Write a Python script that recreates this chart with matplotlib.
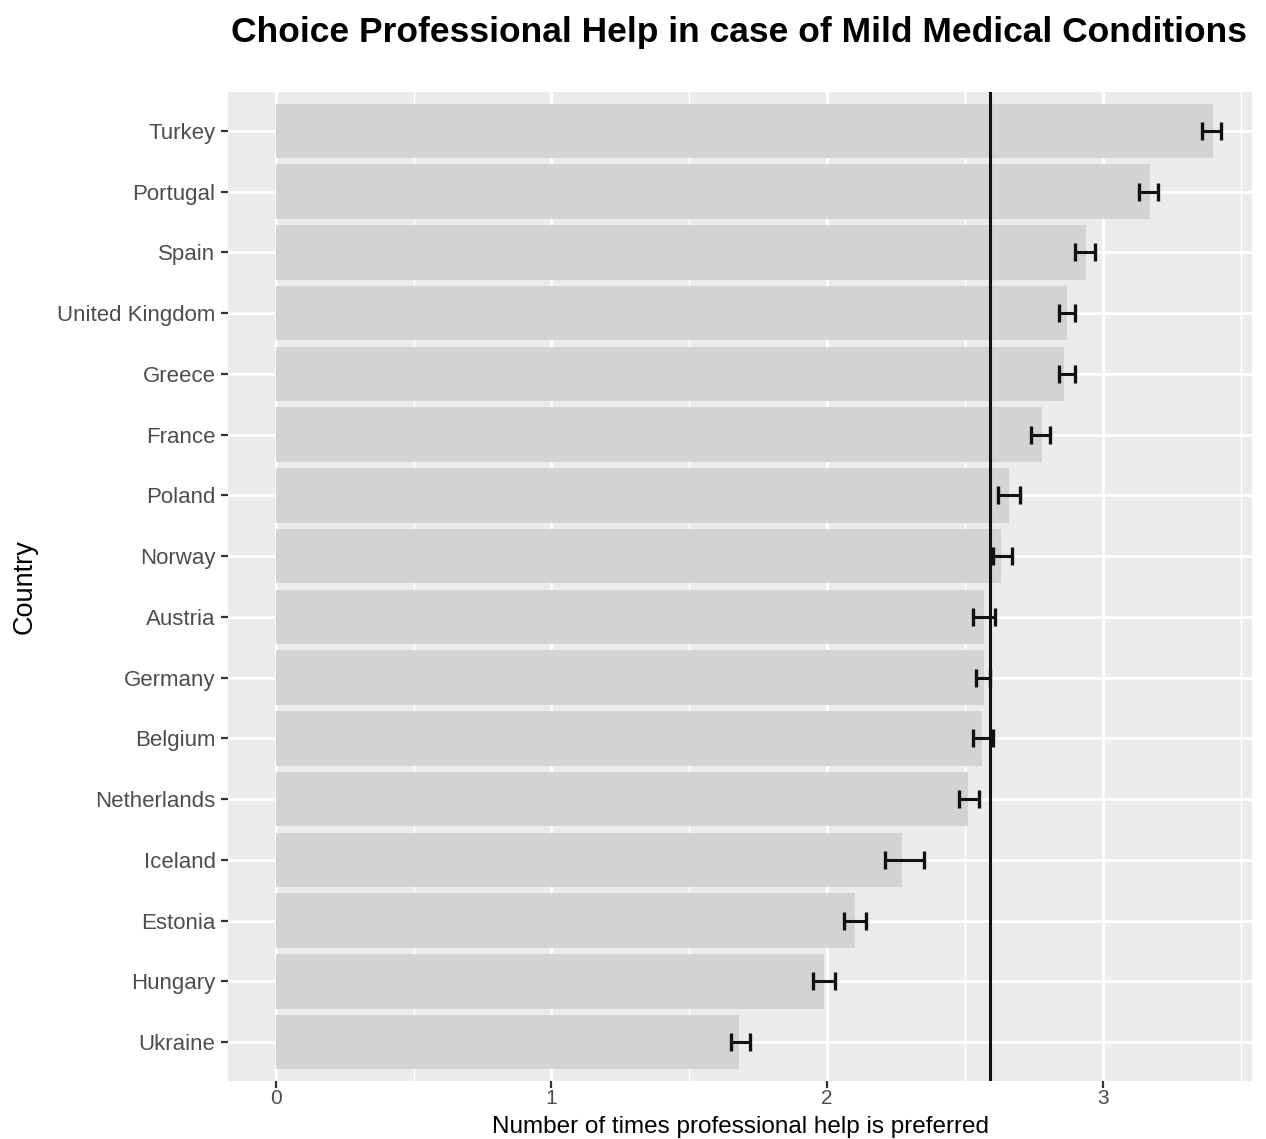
import matplotlib.pyplot as plt
from matplotlib.ticker import MultipleLocator

plt.rcParams['font.family'] = ['Liberation Sans', 'DejaVu Sans']

# --- data, top to bottom as drawn ---
countries = ['Turkey', 'Portugal', 'Spain', 'United Kingdom', 'Greece', 'France',
             'Poland', 'Norway', 'Austria', 'Germany', 'Belgium', 'Netherlands',
             'Iceland', 'Estonia', 'Hungary', 'Ukraine']
means = [3.40, 3.17, 2.94, 2.87, 2.86, 2.78, 2.66, 2.63, 2.57, 2.57, 2.56, 2.51,
         2.27, 2.10, 1.99, 1.68]
lower = [3.36, 3.13, 2.90, 2.84, 2.84, 2.74, 2.62, 2.60, 2.53, 2.54, 2.53, 2.48,
         2.21, 2.06, 1.95, 1.65]
upper = [3.43, 3.20, 2.97, 2.90, 2.90, 2.81, 2.70, 2.67, 2.61, 2.59, 2.60, 2.55,
         2.35, 2.14, 2.03, 1.72]
overall_mean = 2.59

fig = plt.figure(figsize=(12.66, 11.39), dpi=100)
ax = fig.add_axes([228 / 1266, 1 - 1081 / 1139, 1024 / 1266, 989 / 1139])

n = len(countries)
ypos = [n - 1 - i for i in range(n)]

ax.set_facecolor('#EBEBEB')
ax.barh(ypos, means, height=0.9, color='#D3D3D3', zorder=2)
xerr = [[m - lo for m, lo in zip(means, lower)], [hi - m for m, hi in zip(means, upper)]]
ax.errorbar(means, ypos, xerr=xerr, fmt='none', ecolor='#111111', elinewidth=2.2,
            capsize=6.5, capthick=2.4, zorder=3)
ax.axvline(overall_mean, color='#111111', linewidth=2.2, zorder=4)

ax.set_xlim(-0.173, 3.541)
ax.set_ylim(-0.64, n - 1 + 0.64)
ax.set_yticks(ypos)
ax.set_yticklabels(countries)
ax.xaxis.set_major_locator(MultipleLocator(1))
ax.xaxis.set_minor_locator(MultipleLocator(0.5))
ax.grid(which='major', color='white', linewidth=2.0, zorder=0)
ax.grid(which='minor', axis='x', color='white', linewidth=1.0, zorder=0)
ax.set_axisbelow(True)
for s in ax.spines.values():
    s.set_visible(False)
ax.tick_params(axis='both', which='major', length=5, width=1.6, color='#333333',
               labelsize=16, labelcolor='#4D4D4D', pad=4)
ax.tick_params(axis='x', which='major', labelsize=15, pad=1)
ax.tick_params(axis='both', which='minor', length=0)

# x title placed by hand so it sits at the very bottom like the reference
fig.text(740 / 1266, 1 - 1133 / 1139, 'Number of times professional help is preferred',
         fontsize=17.5, ha='center', va='baseline')
ax.set_ylabel('Country', fontsize=19.5, labelpad=14)
fig.suptitle('Choice Professional Help in case of Mild Medical Conditions',
             fontsize=25.5, fontweight='bold', x=739 / 1266, y=1 - 16 / 1139, va='top')

fig.savefig('out.png', dpi=100)
